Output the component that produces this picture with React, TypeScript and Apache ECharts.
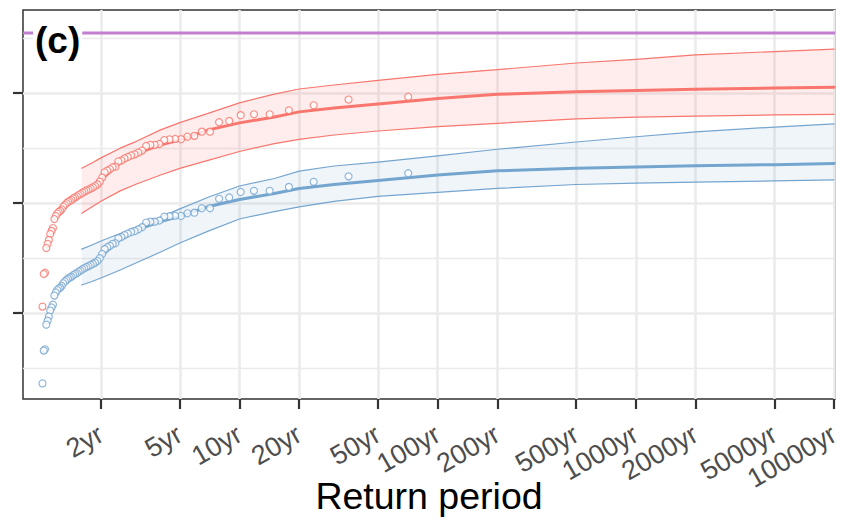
import React, { useEffect, useRef } from "react";
import * as echarts from "echarts";

// Empirical return periods (years) of the 70 ranked observations
const RETURN_PERIODS = [
  71, 35.5, 23.67, 17.75, 14.2, 11.83, 10.14, 8.875, 7.889, 7.1,
  6.455, 5.917, 5.462, 5.071, 4.733, 4.438, 4.176, 3.944, 3.737, 3.55,
  3.381, 3.227, 3.087, 2.958, 2.84, 2.731, 2.63, 2.536, 2.448, 2.367,
  2.29, 2.219, 2.152, 2.088, 2.029, 1.972, 1.919, 1.868, 1.821, 1.775,
  1.732, 1.69, 1.651, 1.614, 1.578, 1.543, 1.511, 1.479, 1.449, 1.42,
  1.392, 1.365, 1.34, 1.315, 1.291, 1.268, 1.246, 1.224, 1.203, 1.183,
  1.164, 1.145, 1.127, 1.109, 1.092, 1.076, 1.06, 1.044, 1.029, 1.014,
];

const RED_POINTS = [
  49.83, 49.7, 49.44, 49.21, 49.03, 49.03, 48.99, 48.73, 48.67, 48.24,
  48.24, 48.05, 48.01, 47.9, 47.91, 47.89, 47.86, 47.68, 47.64, 47.64,
  47.59, 47.38, 47.29, 47.21, 47.16, 47.09, 47.02, 46.93, 46.89, 46.65,
  46.62, 46.53, 46.47, 46.39, 46.16, 45.97, 45.84, 45.77, 45.71, 45.66,
  45.61, 45.57, 45.52, 45.47, 45.41, 45.36, 45.3, 45.25, 45.21, 45.14,
  45.09, 45.05, 44.99, 44.91, 44.83, 44.71, 44.64, 44.59, 44.52, 44.41,
  44.27, 43.86, 43.73, 43.59, 43.32, 43.14, 42.95, 41.83, 41.77, 40.29,
];

const BLUE_POINTS = [
  46.35, 46.21, 45.96, 45.73, 45.55, 45.55, 45.5, 45.25, 45.19, 44.76,
  44.76, 44.56, 44.53, 44.41, 44.42, 44.4, 44.38, 44.2, 44.15, 44.15,
  44.11, 43.9, 43.8, 43.72, 43.68, 43.61, 43.54, 43.45, 43.4, 43.17,
  43.14, 43.05, 42.99, 42.9, 42.68, 42.49, 42.36, 42.29, 42.23, 42.18,
  42.13, 42.09, 42.04, 41.99, 41.93, 41.88, 41.81, 41.77, 41.72, 41.65,
  41.61, 41.56, 41.5, 41.43, 41.35, 41.23, 41.15, 41.11, 41.04, 40.93,
  40.79, 40.38, 40.25, 40.11, 39.84, 39.65, 39.47, 38.35, 38.29, 36.8,
];

// Fitted return-level curves with confidence bands
const CURVE_PERIODS = [1.6, 1.8, 2, 2.5, 3, 4, 5, 7, 10, 15, 20, 30, 50, 100, 200, 500, 1000, 2000, 5000, 10000];
const RED_FIT = [45.45, 45.77, 46.05, 46.82, 47.23, 47.64, 47.86, 48.32, 48.64, 48.91, 49.14, 49.32, 49.5, 49.75, 49.94, 50.05, 50.11, 50.17, 50.22, 50.26];
const RED_UPPER = [46.58, 46.82, 47.05, 47.49, 47.79, 48.32, 48.65, 49.08, 49.55, 49.95, 50.18, 50.36, 50.57, 50.84, 51.06, 51.36, 51.53, 51.73, 51.88, 51.99];
const RED_LOWER = [44.53, 44.82, 45.08, 45.55, 45.85, 46.27, 46.57, 46.95, 47.34, 47.7, 47.89, 48.09, 48.27, 48.47, 48.62, 48.82, 48.9, 48.95, 49.0, 49.03];
const BLUE_FIT = [41.98, 42.3, 42.57, 43.34, 43.75, 44.16, 44.39, 44.84, 45.16, 45.43, 45.66, 45.84, 46.02, 46.27, 46.46, 46.58, 46.64, 46.69, 46.74, 46.79];
const BLUE_UPPER = [42.9, 43.09, 43.27, 43.61, 43.91, 44.36, 44.73, 45.27, 45.77, 46.11, 46.45, 46.68, 46.86, 47.14, 47.44, 47.77, 48.01, 48.23, 48.45, 48.59];
const BLUE_LOWER = [41.27, 41.43, 41.59, 41.95, 42.27, 42.77, 43.18, 43.73, 44.27, 44.61, 44.82, 45.07, 45.3, 45.48, 45.66, 45.84, 45.9, 45.95, 46.0, 46.05];

const PURPLE_LEVEL = 52.73;

const X_TICK_PERIODS = [2, 5, 10, 20, 50, 100, 200, 500, 1000, 2000, 5000, 10000];
const Y_MAJOR = [40, 45, 50];
const Y_MINOR = [37.5, 42.5, 47.5, 52.5];
const X_LOG_RANGE = [-0.0923, 4.0045];
const Y_RANGE = [36.09, 53.77];

const RED = "#F8766D";
const BLUE = "#74A5CF";
const PURPLE = "#C27FCF";
const GRID = "#EBEBEB";
const DARK = "#333333";
const FONT = "'Liberation Sans', Arial, Helvetica, sans-serif";

const lg = (t: number) => Math.log10(t);

function curve(vals: number[]) {
  return CURVE_PERIODS.map((t, i) => [lg(t), vals[i]]);
}

export default function App() {
  const ref = useRef<HTMLDivElement>(null);

  useEffect(() => {
    if (!ref.current) return;
    const chart = echarts.init(ref.current, null, { renderer: "svg" });

    const band = (name: string, lower: number[], upper: number[], fill: string) => ({
      type: "custom",
      name,
      data: [[lg(CURVE_PERIODS[0]), lower[0]]],
      silent: true,
      z: 1,
      renderItem: (_params: any, api: any) => {
        const pts: number[][] = [];
        for (let i = 0; i < CURVE_PERIODS.length; i++) {
          pts.push(api.coord([lg(CURVE_PERIODS[i]), upper[i]]));
        }
        for (let i = CURVE_PERIODS.length - 1; i >= 0; i--) {
          pts.push(api.coord([lg(CURVE_PERIODS[i]), lower[i]]));
        }
        return { type: "polygon", shape: { points: pts }, style: { fill } };
      },
    });
    const edge = (name: string, data: number[][], color: string, width: number, z: number) => ({
      type: "line",
      name,
      data,
      smooth: false,
      symbol: "none",
      lineStyle: { color, width, cap: "round", join: "round" },
      silent: true,
      z,
    });

    const option: any = {
      animation: false,
      backgroundColor: "#ffffff",
      grid: {
        left: 23,
        right: 11,
        top: 10,
        bottom: 122,
        show: true,
        borderColor: DARK,
        borderWidth: 1.5,
        backgroundColor: "#ffffff",
        containLabel: false,
        outerBoundsMode: "none",
      },
      xAxis: {
        type: "value",
        min: X_LOG_RANGE[0],
        max: X_LOG_RANGE[1],
        name: "Return period",
        nameLocation: "middle",
        nameGap: 78,
        nameMoveOverlap: false,
        nameTextStyle: { fontSize: 37.5, color: "#000000", fontFamily: FONT },
        axisLine: { show: false },
        axisTick: {
          show: true,
          length: 10,
          lineStyle: { color: DARK, width: 2.2 },
          customValues: X_TICK_PERIODS.map(lg),
        },
        axisLabel: {
          show: true,
          rotate: 30,
          margin: 33,
          fontSize: 27,
          color: "#4D4D4D",
          fontFamily: FONT,
          customValues: X_TICK_PERIODS.map(lg),
          formatter: (v: number) => `${Math.round(Math.pow(10, v))}yr`,
        },
        splitLine: { show: true, lineStyle: { color: GRID, width: 2.6 } },
      },
      yAxis: [
        {
          type: "value",
          position: "left",
          min: Y_RANGE[0],
          max: Y_RANGE[1],
          axisLine: { show: false },
          axisTick: { show: false, customValues: Y_MINOR },
          axisLabel: { show: false, customValues: Y_MINOR },
          splitLine: { show: true, lineStyle: { color: GRID, width: 1.3 } },
        },
        {
          type: "value",
          position: "left",
          offset: 0,
          min: Y_RANGE[0],
          max: Y_RANGE[1],
          axisLine: { show: false },
          axisTick: {
            show: true,
            length: 10,
            lineStyle: { color: DARK, width: 2.2 },
            customValues: Y_MAJOR,
          },
          axisLabel: { show: false, customValues: Y_MAJOR },
          splitLine: { show: true, lineStyle: { color: GRID, width: 2.6 } },
        },
      ],
      series: [
        band("redBand", RED_LOWER, RED_UPPER, "rgba(248,118,109,0.13)"),
        band("blueBand", BLUE_LOWER, BLUE_UPPER, "rgba(116,165,207,0.11)"),
        edge("redLower", curve(RED_LOWER), RED, 1.2, 3),
        edge("redUpper", curve(RED_UPPER), RED, 1.2, 3),
        edge("blueLower", curve(BLUE_LOWER), BLUE, 1.2, 3),
        edge("blueUpper", curve(BLUE_UPPER), BLUE, 1.2, 3),
        edge("redFit", curve(RED_FIT), RED, 3, 4),
        edge("blueFit", curve(BLUE_FIT), BLUE, 3, 4),
        {
          type: "scatter",
          name: "redObs",
          data: RETURN_PERIODS.map((t, i) => [lg(t), RED_POINTS[i]]),
          symbol: "circle",
          symbolSize: 7,
          itemStyle: { color: "#ffffff", borderColor: RED, borderWidth: 1.2 },
          silent: true,
          z: 5,
        },
        {
          type: "scatter",
          name: "blueObs",
          data: RETURN_PERIODS.map((t, i) => [lg(t), BLUE_POINTS[i]]),
          symbol: "circle",
          symbolSize: 7,
          itemStyle: { color: "#ffffff", borderColor: BLUE, borderWidth: 1.2 },
          silent: true,
          z: 5,
        },
        {
          type: "line",
          name: "limit",
          data: [
            [X_LOG_RANGE[0], PURPLE_LEVEL],
            [X_LOG_RANGE[1], PURPLE_LEVEL],
          ],
          symbol: "none",
          lineStyle: { color: PURPLE, width: 3 },
          silent: true,
          z: 6,
        },
      ],
      graphic: [
        {
          type: "text",
          x: 33,
          y: 40.5,
          z: 100,
          style: {
            text: "(c)",
            font: `bold 37px ${FONT}`,
            fill: "#000000",
            backgroundColor: "#ffffff",
            padding: [0, 2],
            verticalAlign: "middle",
            align: "left",
          },
        },
      ],
    };

    chart.setOption(option);
    return () => chart.dispose();
  }, []);

  return (
    <div
      ref={ref}
      style={{ position: "fixed", left: 0, top: 0, width: 846, height: 521, background: "#fff" }}
    />
  );
}
